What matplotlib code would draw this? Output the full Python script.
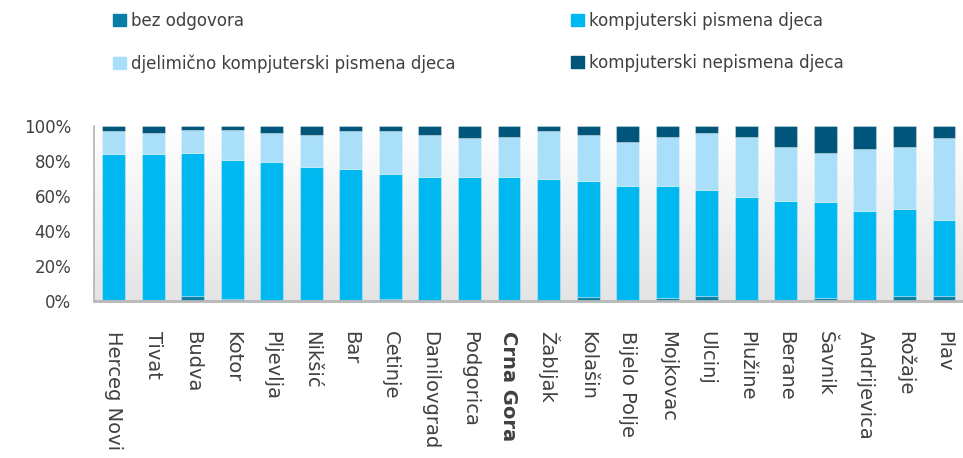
import matplotlib
matplotlib.use("Agg")
import matplotlib.pyplot as plt
import numpy as np
from matplotlib.colors import LinearSegmentedColormap
from matplotlib.patches import Patch
from matplotlib.ticker import FuncFormatter


# municipalities (Crna Gora = national average)
towns = ["Herceg Novi", "Tivat", "Budva", "Kotor", "Pljevlja", "Nikšić", "Bar",
         "Cetinje", "Danilovgrad", "Podgorica", "Crna Gora", "Žabljak", "Kolašin",
         "Bijelo Polje", "Mojkovac", "Ulcinj", "Plužine", "Berane", "Šavnik",
         "Andrijevica", "Rožaje", "Plav"]

# shares in %
bez_odgovora = [0.6, 0.6, 2.7, 1.0, 0.0, 0.6, 0.6, 1.2, 0.0, 0.6, 0.6,
                0.0, 1.9, 0.0, 1.5, 2.7, 0.0, 0.6, 1.5, 0.0, 2.7, 2.7]
pismena = [83.1, 83.1, 81.9, 79.6, 79.4, 75.9, 75.0, 71.3, 70.6, 70.0, 70.0,
           69.6, 66.5, 65.6, 64.1, 60.6, 59.2, 56.7, 54.8, 51.1, 49.6, 43.5]
djelimicno = [13.4, 12.3, 13.3, 17.3, 16.6, 18.3, 21.5, 24.6, 24.2, 22.3, 23.2,
              27.3, 26.4, 25.3, 28.2, 32.5, 34.6, 30.4, 28.5, 35.6, 35.4, 46.7]
nepismena = [2.9, 4.0, 2.1, 2.1, 4.0, 5.2, 2.9, 2.9, 5.2, 7.1, 6.2,
             3.1, 5.2, 9.1, 6.2, 4.2, 6.2, 12.3, 15.2, 13.3, 12.3, 7.1]

labels = ["bez odgovora", "kompjuterski pismena djeca",
          "djelimično kompjuterski pismena djeca", "kompjuterski nepismena djeca"]
colors = ["#0a7fa6", "#00b8f0", "#a9dff8", "#00567a"]

W, H = 963, 458
fig = plt.figure(figsize=(W / 100, H / 100), dpi=100)
ax = fig.add_axes([93.5 / W, 1 - 300.7 / H, (W - 93.5) / W, (300.7 - 126) / H])

x = np.arange(len(towns))
xmin, xmax = -0.506, len(towns) - 0.52

# grey gradient behind the bars
grad = LinearSegmentedColormap.from_list("g", ["#ffffff", "#e4e4e4"])
ax.imshow(np.linspace(0, 1, 256).reshape(-1, 1), cmap=grad, aspect="auto",
          extent=[xmin, xmax, 0, 100], zorder=0)

bottom = np.zeros(len(towns))
for vals, c in zip([bez_odgovora, pismena, djelimicno, nepismena], colors):
    ax.bar(x, vals, 0.58, bottom=bottom, color=c,
           edgecolor=(1, 1, 1, 0.3), linewidth=0.8, zorder=2)
    bottom += np.array(vals)

ax.set_xlim(xmin, xmax)
ax.set_ylim(0, 100)

ax.set_yticks([0, 20, 40, 60, 80, 100])
ax.yaxis.set_major_formatter(FuncFormatter(lambda v, p: "%d%%" % v))
ax.tick_params(axis="y", length=0, pad=16, labelsize=12, labelcolor="#404040")

ax.set_xticks(x)
ax.set_xticklabels(towns, rotation=270, ha="center", va="top")
ax.tick_params(axis="x", length=0, pad=22, labelsize=14, labelcolor="#404040")
ax.get_xticklabels()[towns.index("Crna Gora")].set_fontweight("bold")

for s in ["top", "right"]:
    ax.spines[s].set_visible(False)
ax.spines["left"].set_color("#b4b4b4")
ax.spines["left"].set_linewidth(1.2)
ax.spines["bottom"].set_color("#b8b8b8")
ax.spines["bottom"].set_linewidth(2)

# legend, two columns placed by hand
h = [Patch(color=c) for c in colors]
fig.legend([h[0], h[2]], [labels[0], labels[2]], loc="upper left",
           bbox_to_anchor=(98 / W, 1 + 3 / H), frameon=False,
           fontsize=12, labelcolor="#404040", handlelength=0.75,
           handleheight=0.75, handletextpad=0.35, labelspacing=1.45)
fig.legend([h[1], h[3]], [labels[1], labels[3]], loc="upper left",
           bbox_to_anchor=(556 / W, 1 + 3 / H), frameon=False,
           fontsize=12, labelcolor="#404040", handlelength=0.75,
           handleheight=0.75, handletextpad=0.35, labelspacing=1.45)

fig.savefig("out.png", dpi=100)
